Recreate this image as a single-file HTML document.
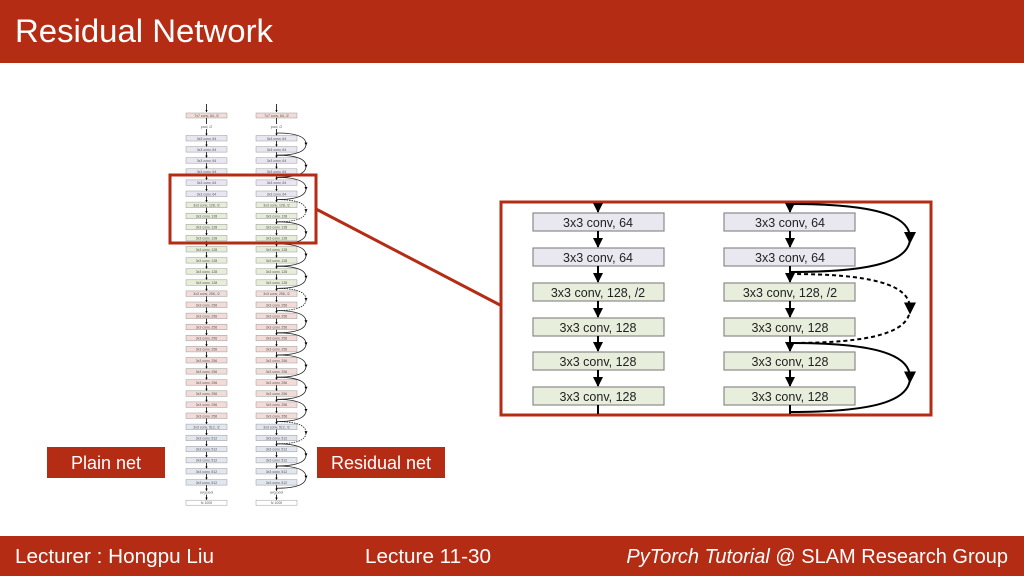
<!DOCTYPE html>
<html><head><meta charset="utf-8"><style>
html,body{margin:0;padding:0;width:1024px;height:576px;overflow:hidden;background:#fff;font-family:"Liberation Sans",sans-serif}
svg{position:absolute;left:0;top:0}
</style></head><body>
<svg id="s" width="1024" height="576" viewBox="0 0 1024 576" xmlns="http://www.w3.org/2000/svg">
<defs>
<marker id="a" viewBox="0 0 10 10" refX="9" refY="5" markerWidth="5" markerHeight="5" orient="auto"><path d="M0,0L10,5L0,10z" fill="#000"/></marker>
<marker id="b" viewBox="0 0 10 10" refX="9" refY="5" markerWidth="3" markerHeight="3" orient="auto"><path d="M0,0L10,5L0,10z" fill="#000"/></marker>
</defs>
<rect x="0" y="0" width="1024" height="63" fill="#b52c14"/>
<text x="15" y="42" font-size="32" fill="#fff" textLength="258" lengthAdjust="spacingAndGlyphs">Residual Network</text>
<rect x="0" y="536" width="1024" height="40" fill="#b52c14"/>
<text x="15" y="563" font-size="20" fill="#fff" textLength="199" lengthAdjust="spacingAndGlyphs">Lecturer : Hongpu Liu</text>
<text x="365" y="563" font-size="20" fill="#fff" textLength="126" lengthAdjust="spacingAndGlyphs">Lecture 11-30</text>
<text x="1008" y="563" font-size="20" fill="#fff" text-anchor="end"><tspan font-style="italic">PyTorch Tutorial</tspan> @ SLAM Research Group</text>
<g id="small"></g>
<rect x="170" y="175" width="146" height="68" fill="none" stroke="#b52c14" stroke-width="3"/>
<line x1="316" y1="209" x2="500" y2="305" stroke="#b52c14" stroke-width="3"/>
<rect x="47" y="447" width="118" height="31" fill="#b52c14"/>
<text x="106" y="469" font-size="18" fill="#fff" text-anchor="middle">Plain net</text>
<rect x="317" y="447" width="128" height="31" fill="#b52c14"/>
<text x="381" y="469" font-size="18" fill="#fff" text-anchor="middle">Residual net</text>
<rect x="501" y="202" width="430" height="213" fill="#fff" stroke="#b52c14" stroke-width="3"/>
<g id="big"></g>
</svg>
<script>
var NS="http://www.w3.org/2000/svg";
function el(p,t,a,txt){var e=document.createElementNS(NS,t);for(var k in a)e.setAttribute(k,a[k]);if(txt)e.textContent=txt;p.appendChild(e);return e;}
var big=document.getElementById("big");
var labels=["3x3 conv, 64","3x3 conv, 64","3x3 conv, 128, /2","3x3 conv, 128","3x3 conv, 128","3x3 conv, 128"];
var cols=["#e9e8f1","#e9e8f1","#e8eedc","#e8eedc","#e8eedc","#e8eedc"];
var ys=[213,248,283,318,352,387];
[[533,598],[724,790]].forEach(function(c){
  el(big,"line",{x1:c[1],y1:203,x2:c[1],y2:212,stroke:"#000","stroke-width":2,"marker-end":"url(#a)"});
  for(var i=0;i<6;i++){
    el(big,"rect",{x:c[0],y:ys[i],width:131,height:18,fill:cols[i],stroke:"#8a8a8a","stroke-width":1.2});
    el(big,"text",{x:c[1],y:ys[i]+14,"font-size":12.5,"text-anchor":"middle",fill:"#222"},labels[i]);
    var y2=i<5?ys[i+1]-1:414;
    el(big,"line",{x1:c[1],y1:ys[i]+18,x2:c[1],y2:y2,stroke:"#000","stroke-width":2,"marker-end":i<5?"url(#a)":""});
  }
});
[[204,272,false],[274,343,true],[343,412,false]].forEach(function(r){
  var y1=r[0],y2=r[1],m=(y1+y2)/2;
  el(big,"path",{d:"M790,"+y1+" C870,"+y1+" 910,"+(y1+10)+" 910,"+m+" C910,"+(y2-10)+" 870,"+y2+" 790,"+y2,fill:"none",stroke:"#000","stroke-width":2,"stroke-dasharray":r[2]?"4,3":""});
  el(big,"path",{d:"M904,"+(m-6)+"L916,"+(m-6)+"L910,"+(m+6)+"z",fill:"#000"});
});
var sm=document.getElementById("small");
var L=[186,256],W=41;
var cats=[];for(var i=0;i<6;i++)cats.push(["3x3 conv, 64","#e8e6f0"]);
for(i=0;i<8;i++)cats.push([i?"3x3 conv, 128":"3x3 conv, 128, /2","#e6edd8"]);
for(i=0;i<12;i++)cats.push([i?"3x3 conv, 256":"3x3 conv, 256, /2","#f3dcd7"]);
for(i=0;i<6;i++)cats.push([i?"3x3 conv, 512":"3x3 conv, 512, /2","#e2e6ee"]);
var y0=135.5,dy=11.1;
L.forEach(function(x,ci){
  var cx=x+W/2;
  el(sm,"line",{x1:cx,y1:104,x2:cx,y2:112,stroke:"#000","stroke-width":0.8,"marker-end":"url(#b)"});
  el(sm,"rect",{x:x,y:113,width:W,height:5,fill:"#f3dcd7",stroke:"#999","stroke-width":0.5});
  el(sm,"text",{x:cx,y:117,"font-size":3.5,"text-anchor":"middle",fill:"#555"},"7x7 conv, 64, /2");
  el(sm,"text",{x:cx,y:128,"font-size":3.5,"text-anchor":"middle",fill:"#555"},"pool, /2");
  el(sm,"line",{x1:cx,y1:118,x2:cx,y2:124,stroke:"#000","stroke-width":0.8});
  el(sm,"line",{x1:cx,y1:129,x2:cx,y2:y0,stroke:"#000","stroke-width":0.8,"marker-end":"url(#b)"});
  for(var i=0;i<32;i++){
    var y=y0+i*dy;
    el(sm,"rect",{x:x,y:y,width:W,height:5.5,fill:cats[i][1],stroke:"#999","stroke-width":0.5});
    el(sm,"text",{x:cx,y:y+4.3,"font-size":3.5,"text-anchor":"middle",fill:"#555"},cats[i][0]);
    el(sm,"line",{x1:cx,y1:y+5.5,x2:cx,y2:y+dy,stroke:"#000","stroke-width":0.8,"marker-end":"url(#b)"});
  }
  var ya=y0+32*dy;
  el(sm,"text",{x:cx,y:ya+3,"font-size":3.5,"text-anchor":"middle",fill:"#555"},"avg pool");
  el(sm,"line",{x1:cx,y1:ya+4,x2:cx,y2:ya+9,stroke:"#000","stroke-width":0.8,"marker-end":"url(#b)"});
  el(sm,"rect",{x:x,y:ya+9.5,width:W,height:5,fill:"#fff",stroke:"#999","stroke-width":0.5});
  el(sm,"text",{x:cx,y:ya+13.3,"font-size":3.5,"text-anchor":"middle",fill:"#555"},"fc 1000");
  if(ci==1){
    for(var k=0;k<16;k++){
      var ya1=y0+2*k*dy-2.5,yb=ya1+2*dy,m=(ya1+yb)/2;
      var dash=(k==3||k==7||k==13);
      el(sm,"path",{d:"M"+cx+","+ya1+" C295,"+ya1+" 306,"+(ya1+3)+" 306,"+m+" C306,"+(yb-3)+" 295,"+yb+" "+cx+","+yb,fill:"none",stroke:"#222","stroke-width":0.8,"stroke-dasharray":dash?"1.5,1":""});
      el(sm,"path",{d:"M304.5,"+(m-1.5)+"L307.5,"+(m-1.5)+"L306,"+(m+1.5)+"z",fill:"#000"});
    }
  }
});
</script>
</body></html>
